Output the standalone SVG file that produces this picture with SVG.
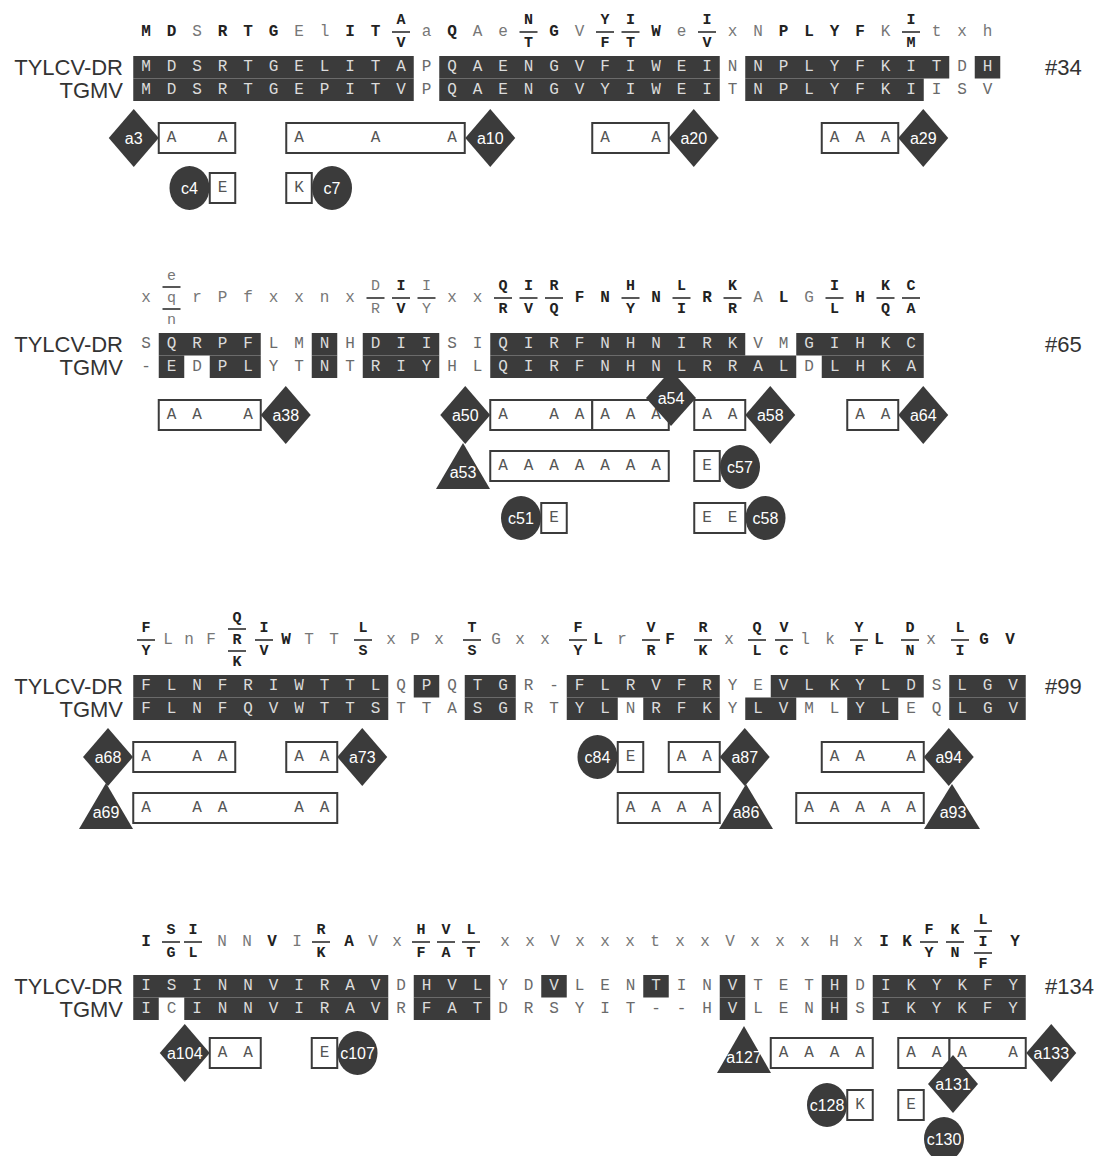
<svg xmlns="http://www.w3.org/2000/svg" width="1100" height="1156" viewBox="0 0 1100 1156">
<style>
.lab{font-family:"Liberation Sans",Arial,sans-serif;font-size:22px;fill:#333;dominant-baseline:central}
.end{text-anchor:end}
.seq{font-family:"Liberation Mono","Courier New",monospace;font-size:16px;letter-spacing:15.9px;dominant-baseline:central}
.w{fill:#dcdcdc}
.g{fill:#6a6a6a}
.dk{fill:#3b3b3b}
.cb{font-family:"Liberation Mono",monospace;font-size:16px;font-weight:bold;fill:#222;text-anchor:middle;dominant-baseline:central}
.cn{font-family:"Liberation Mono",monospace;font-size:16px;fill:#777;text-anchor:middle;dominant-baseline:central}
.fb{font-family:"Liberation Mono",monospace;font-size:15px;font-weight:bold;fill:#222;text-anchor:middle;dominant-baseline:central}
.fn{font-family:"Liberation Mono",monospace;font-size:15px;fill:#777;text-anchor:middle;dominant-baseline:central}
.bar{stroke:#222;stroke-width:1.6;fill:none}
.bx{fill:#fff;stroke:#3b3b3b;stroke-width:2}
.ann{font-family:"Liberation Mono",monospace;font-size:16px;letter-spacing:15.9px;fill:#555;dominant-baseline:central}
.sh{fill:#3b3b3b}
.nl{font-family:"Liberation Sans",Arial,sans-serif;font-size:16px;fill:#fff;text-anchor:middle;dominant-baseline:central}
</style>

<!-- ===== Block 1 ===== -->
<g id="block1-consensus">
<text class="cb" x="146 171.5 222.5 248 273.5 350 375.5 452 554 656 783.5 809 834.5 860" y="32">MDRTGITQGWPLYF</text>
<text class="cn" x="197 299 324.5 426.5 477.5 503 579.5 681.5 732.5 758 885.5 936.5 962 987.5" y="32">SElaAeVexNKtxh</text>
<text class="fb" x="401 528.5 605 630.5 707 911" y="20.5">ANYIII</text>
<text class="fb" x="401 528.5 605 630.5 707 911" y="43.5">VTFTVM</text>
<path class="bar" d="M392 32h18M519.5 32h18M596 32h18M621.5 32h18M698 32h18M902 32h18"/>
</g>
<g id="block1-alignment">
<text class="lab end" x="123" y="67">TYLCV-DR</text>
<text class="lab end" x="123" y="90">TGMV</text>
<rect class="dk" x="133.25" y="56" width="280.5" height="22.5"/>
<rect class="dk" x="439.25" y="56" width="280.5" height="22.5"/>
<rect class="dk" x="745.25" y="56" width="204" height="22.5"/>
<rect class="dk" x="974.75" y="56" width="25.5" height="22.5"/>
<rect class="dk" x="133.25" y="78.5" width="280.5" height="22.5"/>
<rect class="dk" x="439.25" y="78.5" width="280.5" height="22.5"/>
<rect class="dk" x="745.25" y="78.5" width="178.5" height="22.5"/>
<text class="seq" x="141.2" y="67.25"><tspan class="w">MDSRTGELITA</tspan><tspan class="g">P</tspan><tspan class="w">QAENGVFIWEI</tspan><tspan class="g">N</tspan><tspan class="w">NPLYFKIT</tspan><tspan class="g">D</tspan><tspan class="w">H</tspan></text>
<text class="seq" x="141.2" y="89.75"><tspan class="w">MDSRTGEPITV</tspan><tspan class="g">P</tspan><tspan class="w">QAENGVYIWEI</tspan><tspan class="g">T</tspan><tspan class="w">NPLYFKI</tspan><tspan class="g">ISV</tspan></text>
<text class="lab" x="1045" y="67">#34</text>
</g>
<g id="a3"><rect class="bx" x="158.75" y="123" width="76.5" height="30"/><text class="ann" x="166.7" y="138">A&#160;A</text><polygon class="sh" points="133.75,109 158.75,138 133.75,167 108.75,138"/><text class="nl" x="133.75" y="138">a3</text></g>
<g id="a10"><rect class="bx" x="286.25" y="123" width="178.5" height="30"/><text class="ann" x="294.2" y="138">A&#160;&#160;A&#160;&#160;A</text><polygon class="sh" points="490.25,109 515.25,138 490.25,167 465.25,138"/><text class="nl" x="490.25" y="138">a10</text></g>
<g id="a20"><rect class="bx" x="592.25" y="123" width="76.5" height="30"/><text class="ann" x="600.2" y="138">A&#160;A</text><polygon class="sh" points="693.75,109 718.75,138 693.75,167 668.75,138"/><text class="nl" x="693.75" y="138">a20</text></g>
<g id="a29"><rect class="bx" x="821.75" y="123" width="76.5" height="30"/><text class="ann" x="829.7" y="138">AAA</text><polygon class="sh" points="923.25,109 948.25,138 923.25,167 898.25,138"/><text class="nl" x="923.25" y="138">a29</text></g>
<g id="c4"><rect class="bx" x="209.75" y="173" width="25.5" height="30"/><text class="ann" x="217.7" y="188">E</text><ellipse class="sh" cx="189.5" cy="188" rx="20" ry="22"/><text class="nl" x="189.5" y="188">c4</text></g>
<g id="c7"><rect class="bx" x="286.25" y="173" width="25.5" height="30"/><text class="ann" x="294.2" y="188">K</text><ellipse class="sh" cx="332" cy="188" rx="20" ry="22"/><text class="nl" x="332" y="188">c7</text></g>

<!-- ===== Block 2 ===== -->
<g id="block2-consensus">
<text class="cn" x="146 197 222.5 248 273.5 299 324.5 350 452 477.5 758 809" y="298">xrPfxxnxxxAG</text>
<text class="cb" x="579.5 605 656 707 783.5 860" y="298">FNNRLH</text>
<text class="fn" x="171.5" y="276">e</text><text class="fn" x="171.5" y="298">q</text><text class="fn" x="171.5" y="320">n</text>
<text class="fn" x="375.5 426.5" y="286.5">DI</text>
<text class="fn" x="375.5 426.5" y="309.5">RY</text>
<text class="fb" x="401 503 528.5 554 630.5 681.5 732.5 834.5 885.5 911" y="286.5">IQIRHLKIKC</text>
<text class="fb" x="401 503 528.5 554 630.5 681.5 732.5 834.5 885.5 911" y="309.5">VRVQYIRLQA</text>
<path class="bar" d="M162.5 287h18M162.5 309h18M366.5 298h18M392 298h18M417.5 298h18M494 298h18M519.5 298h18M545 298h18M621.5 298h18M672.5 298h18M723.5 298h18M825.5 298h18M876.5 298h18M902 298h18"/>
</g>
<g id="block2-alignment">
<text class="lab end" x="123" y="344">TYLCV-DR</text>
<text class="lab end" x="123" y="367">TGMV</text>
<rect class="dk" x="158.75" y="333" width="102" height="22.5"/>
<rect class="dk" x="311.75" y="333" width="25.5" height="22.5"/>
<rect class="dk" x="362.75" y="333" width="76.5" height="22.5"/>
<rect class="dk" x="490.25" y="333" width="255" height="22.5"/>
<rect class="dk" x="796.25" y="333" width="127.5" height="22.5"/>
<rect class="dk" x="158.75" y="355.5" width="25.5" height="22.5"/>
<rect class="dk" x="209.75" y="355.5" width="51" height="22.5"/>
<rect class="dk" x="311.75" y="355.5" width="25.5" height="22.5"/>
<rect class="dk" x="362.75" y="355.5" width="76.5" height="22.5"/>
<rect class="dk" x="490.25" y="355.5" width="306" height="22.5"/>
<rect class="dk" x="821.75" y="355.5" width="102" height="22.5"/>
<text class="seq" x="141.2" y="344.25"><tspan class="g">S</tspan><tspan class="w">QRPF</tspan><tspan class="g">LM</tspan><tspan class="w">N</tspan><tspan class="g">H</tspan><tspan class="w">DII</tspan><tspan class="g">SI</tspan><tspan class="w">QIRFNHNIRK</tspan><tspan class="g">VM</tspan><tspan class="w">GIHKC</tspan></text>
<text class="seq" x="141.2" y="366.75"><tspan class="g">-</tspan><tspan class="w">E</tspan><tspan class="g">D</tspan><tspan class="w">PL</tspan><tspan class="g">YT</tspan><tspan class="w">N</tspan><tspan class="g">T</tspan><tspan class="w">RIY</tspan><tspan class="g">HL</tspan><tspan class="w">QIRFNHNLRRAL</tspan><tspan class="g">D</tspan><tspan class="w">LHKA</tspan></text>
<text class="lab" x="1045" y="344">#65</text>
</g>
<g id="a38"><rect class="bx" x="158.75" y="400" width="102" height="30"/><text class="ann" x="166.7" y="415">AA&#160;A</text><polygon class="sh" points="285.75,386 310.75,415 285.75,444 260.75,415"/><text class="nl" x="285.75" y="415">a38</text></g>
<g id="a50"><rect class="bx" x="490.25" y="400" width="102" height="30"/><text class="ann" x="498.2" y="415">A&#160;AA</text><polygon class="sh" points="465.25,386 490.25,415 465.25,444 440.25,415"/><text class="nl" x="465.25" y="415">a50</text></g>
<g id="a54"><rect class="bx" x="592.25" y="400" width="76.5" height="30"/><text class="ann" x="600.2" y="415">AAA</text><polygon class="sh" points="671,370 696,398 671,426 646,398"/><text class="nl" x="671" y="398">a54</text></g>
<g id="a58"><rect class="bx" x="694.25" y="400" width="51" height="30"/><text class="ann" x="702.2" y="415">AA</text><polygon class="sh" points="770.25,386 795.25,415 770.25,444 745.25,415"/><text class="nl" x="770.25" y="415">a58</text></g>
<g id="a64"><rect class="bx" x="847.25" y="400" width="51" height="30"/><text class="ann" x="855.2" y="415">AA</text><polygon class="sh" points="923.25,386 948.25,415 923.25,444 898.25,415"/><text class="nl" x="923.25" y="415">a64</text></g>
<g id="a53"><rect class="bx" x="490.25" y="451" width="178.5" height="30"/><text class="ann" x="498.2" y="466">AAAAAAA</text><polygon class="sh" points="463,443 490,489 436,489"/><text class="nl" x="463" y="472">a53</text></g>
<g id="c57"><rect class="bx" x="694.25" y="451" width="25.5" height="30"/><text class="ann" x="702.2" y="466">E</text><ellipse class="sh" cx="740" cy="467" rx="20" ry="22"/><text class="nl" x="740" y="467">c57</text></g>
<g id="c51"><rect class="bx" x="541.25" y="503" width="25.5" height="30"/><text class="ann" x="549.2" y="518">E</text><ellipse class="sh" cx="521" cy="518" rx="20" ry="22"/><text class="nl" x="521" y="518">c51</text></g>
<g id="c58"><rect class="bx" x="694.25" y="503" width="51" height="30"/><text class="ann" x="702.2" y="518">EE</text><ellipse class="sh" cx="765.5" cy="518" rx="20" ry="22"/><text class="nl" x="765.5" y="518">c58</text></g>

<!-- ===== Block 3 ===== -->
<g id="block3-consensus">
<text class="cb" x="286 598 670 879 984 1010" y="640">WLFLGV</text>
<text class="cn" x="168 189 211 309 334 391 415 439 496 520 545 622 729 805 830 931" y="640">LnFTTxPxGxxrxlkx</text>
<text class="fb" x="237" y="618">Q</text><text class="fb" x="237" y="640">R</text><text class="fb" x="237" y="662">K</text>
<text class="fb" x="146 264 363 472 578 651 703 757 784 859 910 960" y="628.5">FILTFVRQVYDL</text>
<text class="fb" x="146 264 363 472 578 651 703 757 784 859 910 960" y="651.5">YVSSYRKLCFNI</text>
<path class="bar" d="M228 629h18M228 651h18M137 640h18M255 640h18M354 640h18M463 640h18M569 640h18M642 640h18M694 640h18M748 640h18M775 640h18M850 640h18M901 640h18M951 640h18"/>
</g>
<g id="block3-alignment">
<text class="lab end" x="123" y="686">TYLCV-DR</text>
<text class="lab end" x="123" y="709">TGMV</text>
<rect class="dk" x="133.25" y="675" width="255" height="22.5"/>
<rect class="dk" x="413.75" y="675" width="25.5" height="22.5"/>
<rect class="dk" x="464.75" y="675" width="51" height="22.5"/>
<rect class="dk" x="566.75" y="675" width="153" height="22.5"/>
<rect class="dk" x="770.75" y="675" width="153" height="22.5"/>
<rect class="dk" x="949.25" y="675" width="76.5" height="22.5"/>
<rect class="dk" x="133.25" y="697.5" width="255" height="22.5"/>
<rect class="dk" x="464.75" y="697.5" width="51" height="22.5"/>
<rect class="dk" x="566.75" y="697.5" width="51" height="22.5"/>
<rect class="dk" x="643.25" y="697.5" width="76.5" height="22.5"/>
<rect class="dk" x="745.25" y="697.5" width="51" height="22.5"/>
<rect class="dk" x="847.25" y="697.5" width="51" height="22.5"/>
<rect class="dk" x="949.25" y="697.5" width="76.5" height="22.5"/>
<text class="seq" x="141.2" y="686.25"><tspan class="w">FLNFRIWTTL</tspan><tspan class="g">Q</tspan><tspan class="w">P</tspan><tspan class="g">Q</tspan><tspan class="w">TG</tspan><tspan class="g">R-</tspan><tspan class="w">FLRVFR</tspan><tspan class="g">YE</tspan><tspan class="w">VLKYLD</tspan><tspan class="g">S</tspan><tspan class="w">LGV</tspan></text>
<text class="seq" x="141.2" y="708.75"><tspan class="w">FLNFQVWTTS</tspan><tspan class="g">TTA</tspan><tspan class="w">SG</tspan><tspan class="g">RT</tspan><tspan class="w">YL</tspan><tspan class="g">N</tspan><tspan class="w">RFK</tspan><tspan class="g">Y</tspan><tspan class="w">LV</tspan><tspan class="g">ML</tspan><tspan class="w">YL</tspan><tspan class="g">EQ</tspan><tspan class="w">LGV</tspan></text>
<text class="lab" x="1045" y="686">#99</text>
</g>
<g id="a68"><rect class="bx" x="133.25" y="742" width="102" height="30"/><text class="ann" x="141.2" y="757">A&#160;AA</text><polygon class="sh" points="108,728 133,757 108,786 83,757"/><text class="nl" x="108" y="757">a68</text></g>
<g id="a73"><rect class="bx" x="286.25" y="742" width="51" height="30"/><text class="ann" x="294.2" y="757">AA</text><polygon class="sh" points="362.25,728 387.25,757 362.25,786 337.25,757"/><text class="nl" x="362.25" y="757">a73</text></g>
<g id="a69"><rect class="bx" x="133.25" y="793" width="204" height="30"/><text class="ann" x="141.2" y="808">A&#160;AA&#160;&#160;AA</text><polygon class="sh" points="106,783 133,829 79,829"/><text class="nl" x="106" y="812">a69</text></g>
<g id="c84"><rect class="bx" x="617.75" y="742" width="25.5" height="30"/><text class="ann" x="625.7" y="757">E</text><ellipse class="sh" cx="597.5" cy="757" rx="20" ry="22"/><text class="nl" x="597.5" y="757">c84</text></g>
<g id="a87"><rect class="bx" x="668.75" y="742" width="51" height="30"/><text class="ann" x="676.7" y="757">AA</text><polygon class="sh" points="744.75,728 769.75,757 744.75,786 719.75,757"/><text class="nl" x="744.75" y="757">a87</text></g>
<g id="a94"><rect class="bx" x="821.75" y="742" width="102" height="30"/><text class="ann" x="829.7" y="757">AA&#160;A</text><polygon class="sh" points="948.75,728 973.75,757 948.75,786 923.75,757"/><text class="nl" x="948.75" y="757">a94</text></g>
<g id="a86"><rect class="bx" x="617.75" y="793" width="102" height="30"/><text class="ann" x="625.7" y="808">AAAA</text><polygon class="sh" points="746,784 773,829 719,829"/><text class="nl" x="746" y="812">a86</text></g>
<g id="a93"><rect class="bx" x="796.25" y="793" width="127.5" height="30"/><text class="ann" x="804.2" y="808">AAAAA</text><polygon class="sh" points="952,784 980,829 924,829"/><text class="nl" x="953" y="812">a93</text></g>

<!-- ===== Block 4 ===== -->
<g id="block4-consensus">
<text class="cb" x="146 272 349 884 907 1015" y="942">IVAIKY</text>
<text class="cn" x="222 247 297 373 397 505 530 555 580 605 630 655 680 705 730 755 780 805 834 858" y="942">NNIVxxxVxxxtxxVxxxHx</text>
<text class="fb" x="171 193 321 421 446 471 929 955" y="930.5">SIRHVLFK</text>
<text class="fb" x="171 193 321 421 446 471 929 955" y="953.5">GLKFATYN</text>
<text class="fb" x="983" y="920">L</text><text class="fb" x="983" y="942">I</text><text class="fb" x="983" y="964">F</text>
<path class="bar" d="M162 942h18M184 942h18M312 942h18M412 942h18M437 942h18M462 942h18M920 942h18M946 942h18M974 931h18M974 953h18"/>
</g>
<g id="block4-alignment">
<text class="lab end" x="123" y="986">TYLCV-DR</text>
<text class="lab end" x="123" y="1009">TGMV</text>
<rect class="dk" x="133.25" y="975" width="255" height="22.5"/>
<rect class="dk" x="413.75" y="975" width="76.5" height="22.5"/>
<rect class="dk" x="541.25" y="975" width="25.5" height="22.5"/>
<rect class="dk" x="643.25" y="975" width="25.5" height="22.5"/>
<rect class="dk" x="719.75" y="975" width="25.5" height="22.5"/>
<rect class="dk" x="821.75" y="975" width="25.5" height="22.5"/>
<rect class="dk" x="872.75" y="975" width="153" height="22.5"/>
<rect class="dk" x="133.25" y="997.5" width="25.5" height="22.5"/>
<rect class="dk" x="184.25" y="997.5" width="204" height="22.5"/>
<rect class="dk" x="413.75" y="997.5" width="76.5" height="22.5"/>
<rect class="dk" x="719.75" y="997.5" width="25.5" height="22.5"/>
<rect class="dk" x="821.75" y="997.5" width="25.5" height="22.5"/>
<rect class="dk" x="872.75" y="997.5" width="153" height="22.5"/>
<text class="seq" x="141.2" y="986.25"><tspan class="w">ISINNVIRAV</tspan><tspan class="g">D</tspan><tspan class="w">HVL</tspan><tspan class="g">YD</tspan><tspan class="w">V</tspan><tspan class="g">LEN</tspan><tspan class="w">T</tspan><tspan class="g">IN</tspan><tspan class="w">V</tspan><tspan class="g">TET</tspan><tspan class="w">H</tspan><tspan class="g">D</tspan><tspan class="w">IKYKFY</tspan></text>
<text class="seq" x="141.2" y="1008.75"><tspan class="w">I</tspan><tspan class="g">C</tspan><tspan class="w">INNVIRAV</tspan><tspan class="g">R</tspan><tspan class="w">FAT</tspan><tspan class="g">DRSYIT--H</tspan><tspan class="w">V</tspan><tspan class="g">LEN</tspan><tspan class="w">H</tspan><tspan class="g">S</tspan><tspan class="w">IKYKFY</tspan></text>
<text class="lab" x="1045" y="986">#134</text>
</g>
<g id="a104"><rect class="bx" x="209.75" y="1038" width="51" height="30"/><text class="ann" x="217.7" y="1053">AA</text><polygon class="sh" points="184.75,1024 209.75,1053 184.75,1082 159.75,1053"/><text class="nl" x="184.75" y="1053">a104</text></g>
<g id="c107"><rect class="bx" x="311.75" y="1038" width="25.5" height="30"/><text class="ann" x="319.7" y="1053">E</text><ellipse class="sh" cx="357.5" cy="1053" rx="20" ry="22"/><text class="nl" x="357.5" y="1053">c107</text></g>
<g id="a127"><rect class="bx" x="770.75" y="1038" width="102" height="30"/><text class="ann" x="778.7" y="1053">AAAA</text><polygon class="sh" points="744,1026 771,1073 717,1073"/><text class="nl" x="744" y="1057">a127</text></g>
<g id="a133"><rect class="bx" x="949.25" y="1038" width="76.5" height="30"/><text class="ann" x="957.2" y="1053">A&#160;A</text><polygon class="sh" points="1051.25,1024 1076.25,1053 1051.25,1082 1026.25,1053"/><text class="nl" x="1051.25" y="1053">a133</text></g>
<g id="a131"><rect class="bx" x="898.25" y="1038" width="51" height="30"/><text class="ann" x="906.2" y="1053">AA</text><polygon class="sh" points="953,1055 978,1084 953,1113 928,1084"/><text class="nl" x="953" y="1084">a131</text></g>
<g id="c128"><rect class="bx" x="847.25" y="1090" width="25.5" height="30"/><text class="ann" x="855.2" y="1105">K</text><ellipse class="sh" cx="827" cy="1105" rx="20" ry="22"/><text class="nl" x="827" y="1105">c128</text></g>
<g id="c130"><rect class="bx" x="898.25" y="1090" width="25.5" height="30"/><text class="ann" x="906.2" y="1105">E</text><ellipse class="sh" cx="944" cy="1139" rx="20" ry="22"/><text class="nl" x="944" y="1139">c130</text></g>
<g id="connectors"/>
</svg>
